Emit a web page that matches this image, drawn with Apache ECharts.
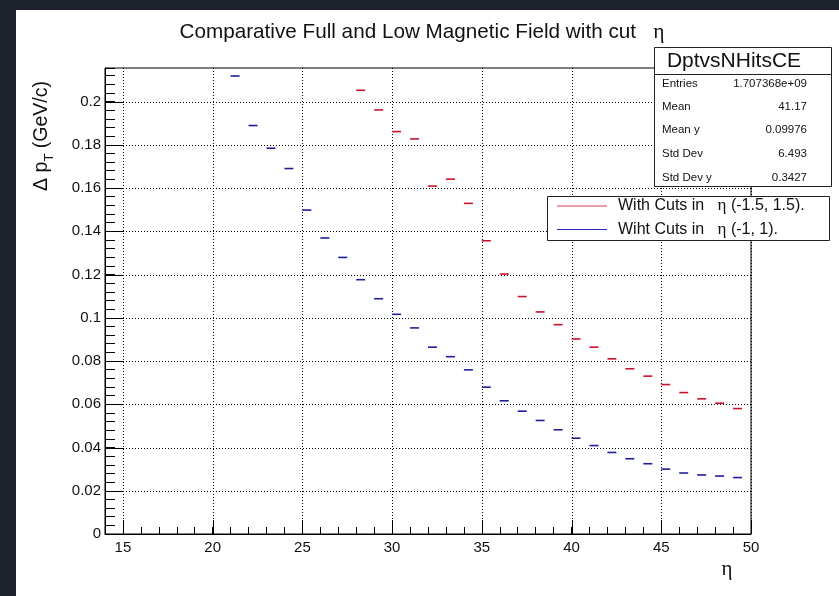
<!DOCTYPE html>
<html><head><meta charset="utf-8">
<script src="https://cdn.jsdelivr.net/npm/echarts@6/dist/echarts.min.js"></script>
<style>
html,body{margin:0;padding:0;background:#1c212b;width:839px;height:596px;overflow:hidden}
#main{position:absolute;left:16px;top:10px;width:823px;height:586px;background:#fff}
</style></head><body><div id="main"></div>
<script>
// ---- data ----
const blueX = [21.25,22.25,23.25,24.25,25.25,26.25,27.25,28.25,29.25,30.25,31.25,32.25,33.25,34.25,35.25,36.25,37.25,38.25,39.25,40.25,41.25,42.25,43.25,44.25,45.25,46.25,47.25,48.25,49.25];
const blueY = [0.2118,0.1889,0.1784,0.1690,0.1498,0.1369,0.1279,0.1176,0.1088,0.1016,0.0953,0.0864,0.0820,0.0759,0.0679,0.0616,0.0568,0.0525,0.0482,0.0443,0.0409,0.0377,0.0348,0.0325,0.0300,0.0282,0.0273,0.0268,0.0261];
const redX = [28.25,29.25,30.25,31.25,32.25,33.25,34.25,35.25,36.25,37.25,38.25,39.25,40.25,41.25,42.25,43.25,44.25,45.25,46.25,47.25,48.25,49.25];
const redY = [0.2052,0.1961,0.1861,0.1827,0.1609,0.1641,0.1529,0.1356,0.1202,0.1098,0.1027,0.0968,0.0902,0.0864,0.0810,0.0764,0.0730,0.0691,0.0654,0.0625,0.0605,0.0580];
const xMajorTicks = [15,20,25,30,35,40,45,50];
const yMajorTicks = [0,0.02,0.04,0.06,0.08,0.1,0.12,0.14,0.16,0.18,0.2];
const X_MIN = 14, X_MAX = 50, X_MINOR = 1;
const Y_MIN = 0, Y_MAX = 0.2155, Y_MINOR = 0.004;
const BIN_HALF = 0.25;
const titleText = 'Comparative Full and Low Magnetic Field with cut   ';
const statsTitle = 'DptvsNHitsCE';
const statsLabels = ['Entries','Mean','Mean y','Std Dev','Std Dev y'];
const statsValues = ['1.707368e+09','41.17','0.09976','6.493','0.3427'];
const legendLabels = ['With Cuts in   ', 'Wiht Cuts in   '];
const legendTails = [' (-1.5, 1.5).', ' (-1, 1).'];

const RED = '#c8142f', BLUE = '#1e1e96';
const LEG_RED = '#d23a4a', LEG_BLUE = '#2a2ac8';
const FONT = 'Liberation Sans, Arial, sans-serif';
const SERIF = 'Liberation Serif, serif';

const chart = echarts.init(document.getElementById('main'));

function crisp(v){ return Math.round(v) + 0.5; }

function vGrid(params, api) {
  const v = api.value(0);
  const b = api.coord([v, Y_MIN]);
  const t = api.coord([v, Y_MAX]);
  const x = crisp(b[0]);
  return {type:'group', children:[
    {type:'line', shape:{x1:x,y1:b[1],x2:x,y2:t[1]}, style:{stroke:'#000', lineWidth:1, lineDash:[1,2]}},
    {type:'line', shape:{x1:x,y1:b[1],x2:x,y2:b[1]-14}, style:{stroke:'#000', lineWidth:1}}
  ]};
}
function hGrid(params, api) {
  const v = api.value(1);
  const l = api.coord([X_MIN, v]);
  const r = api.coord([X_MAX, v]);
  const y = crisp(l[1]);
  return {type:'group', children:[
    {type:'line', shape:{x1:l[0],y1:y,x2:r[0],y2:y}, style:{stroke:'#000', lineWidth:1, lineDash:[1,2]}},
    {type:'line', shape:{x1:l[0],y1:y,x2:l[0]+19,y2:y}, style:{stroke:'#000', lineWidth:1}}
  ]};
}
function makeBar(color) {
  return function(params, api) {
    const x = api.value(0), y = api.value(1);
    const a = api.coord([x - BIN_HALF, y]);
    const b = api.coord([x + BIN_HALF, y]);
    return {type:'line', shape:{x1:a[0],y1:a[1],x2:b[0],y2:b[1]}, style:{stroke:color, lineWidth:1.6}};
  };
}
function isMultiple(v, step){ const k = v/step; return Math.abs(k - Math.round(k)) < 1e-6; }

const graphics = [];
// title
graphics.push({type:'text', x:406, y:22, z:100, style:{
  text:'{a|' + titleText + '}{e|η}', align:'center', verticalAlign:'middle',
  rich:{a:{fontFamily:FONT, fontSize:20.7, fill:'#111'}, e:{fontFamily:SERIF, fontSize:21.5, fill:'#111'}}
}});
// y axis title
graphics.push({type:'text', x:26, y:126, rotation:Math.PI/2, z:100, style:{
  text:'{a|Δ p}{s|T}{a| (GeV/c)}', align:'center', verticalAlign:'middle',
  rich:{a:{fontFamily:FONT, fontSize:19.5, lineHeight:28, fill:'#111', verticalAlign:'middle'},
        s:{fontFamily:FONT, fontSize:13, lineHeight:13, fill:'#111', verticalAlign:'bottom'}}
}});
// x axis title
graphics.push({type:'text', x:711, y:559, z:100, style:{text:'η', fontFamily:SERIF, fontSize:21, fill:'#111', align:'center', verticalAlign:'middle'}});
// stats box
const SB = {x:638, y:37, w:177, h:139};
graphics.push({type:'rect', z:100, shape:{x:SB.x+0.5, y:SB.y+0.5, width:SB.w, height:SB.h}, style:{fill:'#fff', stroke:'#222', lineWidth:1}});
graphics.push({type:'line', z:101, shape:{x1:SB.x+0.5, y1:64.5, x2:SB.x+SB.w+0.5, y2:64.5}, style:{stroke:'#222', lineWidth:1}});
graphics.push({type:'text', z:101, x:718, y:51, style:{text:statsTitle, fontFamily:FONT, fontSize:21, fill:'#111', align:'center', verticalAlign:'middle'}});
const rowY = [73.5, 97, 120, 144, 167.5];
statsLabels.forEach((lab, i) => {
  graphics.push({type:'text', z:101, x:646, y:rowY[i], style:{text:lab, fontFamily:FONT, fontSize:11.5, fill:'#111', align:'left', verticalAlign:'middle'}});
  graphics.push({type:'text', z:101, x:791, y:rowY[i], style:{text:statsValues[i], fontFamily:FONT, fontSize:11.5, fill:'#111', align:'right', verticalAlign:'middle'}});
});
// legend box
const LB = {x:531, y:186, w:282, h:44};
graphics.push({type:'rect', z:100, shape:{x:LB.x+0.5, y:LB.y+0.5, width:LB.w, height:LB.h}, style:{fill:'#fff', stroke:'#222', lineWidth:1}});
const legColors = [LEG_RED, LEG_BLUE];
const legY = [196, 219.5];
legendLabels.forEach((lab, i) => {
  graphics.push({type:'line', z:101, shape:{x1:541, y1:legY[i], x2:591, y2:legY[i]}, style:{stroke:legColors[i], lineWidth:1}});
  graphics.push({type:'text', z:101, x:602, y:legY[i], style:{
    text:'{a|' + lab + '}{e|η}{a|' + legendTails[i] + '}', align:'left', verticalAlign:'middle',
    rich:{a:{fontFamily:FONT, fontSize:16, fill:'#111'}, e:{fontFamily:SERIF, fontSize:17, fill:'#111'}}
  }});
});

const option = {
  animation: false,
  backgroundColor: '#fff',
  grid: {left:89, right:88, top:58, bottom:62, show:true, borderColor:'#000', borderWidth:1, backgroundColor:'transparent'},
  xAxis: {
    type:'value', min:X_MIN, max:X_MAX, interval:X_MINOR,
    axisLine:{show:true, onZero:false, lineStyle:{color:'#000', width:1}},
    axisTick:{show:true, inside:true, length:7, lineStyle:{color:'#000'}},
    splitLine:{show:false},
    axisLabel:{color:'#111', fontFamily:FONT, fontSize:15, margin:6,
      formatter: v => isMultiple(v, 5) ? String(Math.round(v)) : ''}
  },
  yAxis: {
    type:'value', min:Y_MIN, max:Y_MAX, interval:Y_MINOR,
    axisLine:{show:true, onZero:false, lineStyle:{color:'#000', width:1}},
    axisTick:{show:true, inside:true, length:10, lineStyle:{color:'#000'}},
    splitLine:{show:false},
    axisLabel:{color:'#111', fontFamily:FONT, fontSize:15, margin:4,
      formatter: v => isMultiple(v, 0.02) ? String(Number(v.toFixed(3))) : ''}
  },
  series: [
    {type:'custom', name:'xgrid', renderItem:vGrid, data:xMajorTicks.map(v => [v, Y_MIN]), silent:true, z:1, clip:false},
    {type:'custom', name:'ygrid', renderItem:hGrid, data:yMajorTicks.map(v => [X_MIN, v]), silent:true, z:1, clip:false},
    {type:'custom', name:'With Cuts in η (-1.5, 1.5).', renderItem:makeBar(RED), data:redX.map((x,i) => [x, redY[i]]), z:5},
    {type:'custom', name:'Wiht Cuts in η (-1, 1).', renderItem:makeBar(BLUE), data:blueX.map((x,i) => [x, blueY[i]]), z:5}
  ],
  graphic: graphics
};
chart.setOption(option);
</script></body></html>
